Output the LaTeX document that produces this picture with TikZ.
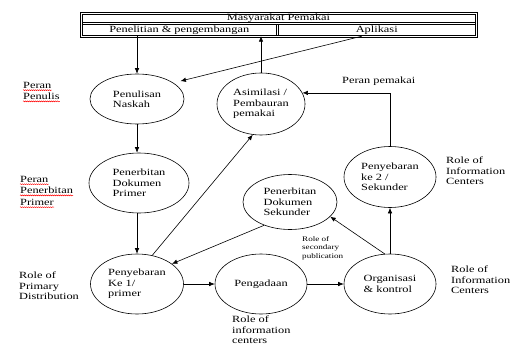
\documentclass[tikz,border=0pt]{standalone}
\usepackage{fontspec}
\setmainfont{Liberation Serif}[FakeStretch=1.3]
\usetikzlibrary{arrows.meta, shapes.geometric, decorations.pathmorphing, calc}

\begin{document}
\begin{tikzpicture}[x=1pt, y=-1pt, font=\fontsize{9.5}{10.5}\selectfont,
	role/.style={ellipse, draw, line width=0.6pt, inner sep=0pt, align=left},
	cell/.style={inner sep=0pt},
	rule/.style={line width=0.5pt},
	note/.style={align=left, anchor=west, inner sep=0pt},
	typo/.style={anchor=west, inner sep=0pt, append after command={\pgfextra{\let\typonode\tikzlastnode}
		([yshift=-1.8pt]\typonode.south west) edge[red, line width=0.4pt, decorate, decoration={snake, amplitude=0.5pt, segment length=2pt}] ([yshift=-1.8pt]\typonode.south east)}},
	flow/.style={-{Latex[length=5.5pt, width=4.5pt]}, line width=0.6pt}]

	\useasboundingbox (0,0) rectangle (510,345);

	\node[cell, minimum width=395pt, minimum height=10.5pt] (users) at (278.5,18.25) {Masyarakat Pemakai};
	\node[cell, minimum width=196.5pt, minimum height=12.5pt] (research) at (179.25,29.75) {Penelitian \& pengembangan};
	\node[cell, minimum width=198.5pt, minimum height=12.5pt] (apply) at (376.75,29.75) {Aplikasi};
	\foreach \d/\e in {-1/1, 1/-1} {
		\draw[rule] ([shift={(\d,\d)}]users.north west) rectangle ([shift={(\e,\e)}]apply.south east);
		\draw[rule] ([shift={(1,\d)}]users.south west) -- ([shift={(-1,\d)}]users.south east);
		\draw[rule] ([shift={(\d,1)}]research.north east) -- ([shift={(\d,-1)}]research.south east);
	}

	\node[role, minimum width=94pt, minimum height=50pt]  (writing) at (137,99) {Penulisan\\Naskah};
	\node[role, minimum width=88pt, minimum height=62pt]  (assim) at (261,104) {Asimilasi /\\Pembauran\\pemakai};
	\node[role, minimum width=100pt, minimum height=60pt] (primpub) at (139,183) {Penerbitan\\Dokumen\\Primer};
	\node[role, minimum width=94pt, minimum height=55pt]  (secpub) at (290,202) {Penerbitan\\Dokumen\\Sekunder};
	\node[role, minimum width=92pt, minimum height=61pt]  (secdist) at (390,177) {Penyebaran\\ke 2 /\\Sekunder};
	\node[role, minimum width=93pt, minimum height=60pt]  (primdist) at (137,284) {Penyebaran\\Ke 1/\\primer};
	\node[role, minimum width=92pt, minimum height=60pt]  (acquire) at (261,284) {Pengadaan};
	\node[role, minimum width=92pt, minimum height=60pt]  (organise) at (390,284) {Organisasi\\\& kontrol};

	\node[typo] (writerA) at (23,85) {Peran};
	\node[typo] (writerB) at (23,96) {Penulis};
	\node[typo] (pubA) at (20,179) {Peran};
	\node[typo] (pubB) at (20,190) {Penerbitan};
	\node[typo] (pubC) at (20,202) {Primer};
	\node[note] (distrole) at (19,286) {Role of\\Primary\\Distribution};
	\node[note] (userrole) at (342,81) {Peran pemakai};
	\node[note] (centrerole) at (446,171) {Role of\\Information\\Centers};
	\node[note] (orgrole) at (451,280) {Role of\\Information\\Centers};
	\node[note] (acqrole) at (232,330) {Role of\\information\\centers};
	\node[note, font=\fontsize{7}{8.7}\selectfont] (secrole) at (302,248) {Role of\\secondary\\publication};

	\draw[flow] (research.south -| writing) -- (writing.north);
	\draw[flow] (assim.north) -- (assim.north |- research.south);
	\draw[flow] ([xshift=-15pt]apply.south) -- ([xshift=10pt]writing.north east);
	\draw[flow] (writing.south) -- (writing.south |- primpub.north);
	\draw[flow] (primdist.north |- primpub.south) -- (primdist.north);
	\draw[flow] (primdist.62) -- (assim.255);
	\draw[flow] (secpub.222) -- (primdist.30);
	\draw[flow] (primdist.east) -- (acquire.west);
	\draw[flow] (acquire.east) -- (organise.west);
	\draw[flow] (organise.100) -- (secpub.340);
	\draw[flow] (organise.north) -- (secdist.south);
	\draw[flow] (secdist.north) |- (assim.15);
\end{tikzpicture}
\end{document}
